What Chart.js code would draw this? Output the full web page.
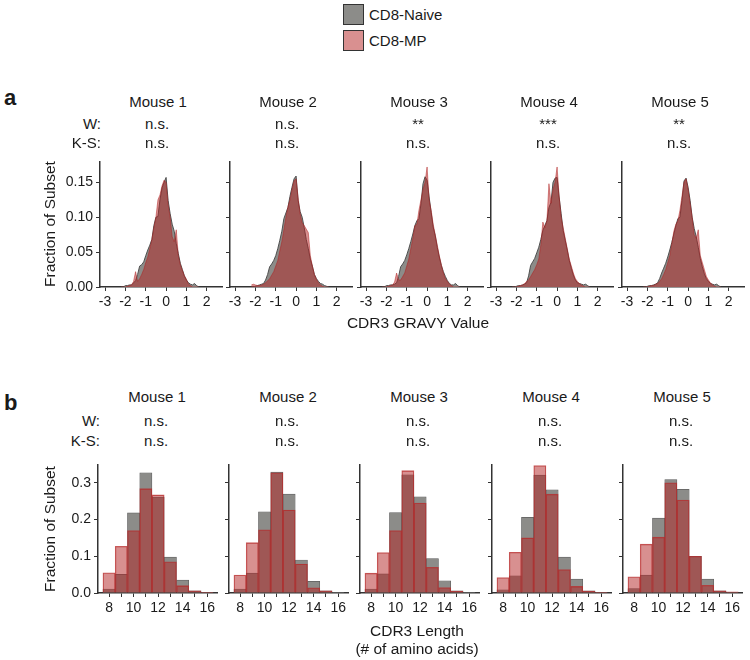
<!DOCTYPE html>
<html>
<head>
<meta charset="utf-8">
<script src="https://cdn.jsdelivr.net/npm/chart.js@4.4.1/dist/chart.umd.min.js"></script>
<style>
body { margin: 0; background: #fff; }
#fig { position: relative; width: 750px; height: 660px; overflow: hidden; font-family: "Liberation Sans", Arial, Helvetica, sans-serif; color: #1a1a1a; }
#fig canvas { position: absolute; }
.t { position: absolute; font-size: 15px; line-height: 1; white-space: nowrap; transform: translate(-50%, -50%); }
.r { transform: translate(-100%, -50%); }
.l { transform: translate(0, -50%); }
.rot { transform: translate(-50%, -50%) rotate(-90deg); }
.tit { font-size: 15.5px; }
.big { font-size: 22px; font-weight: bold; }
.caja { position: absolute; width: 19px; height: 19px; border: 1px solid #333; }
</style>
</head>
<body>
<div id="fig"></div>
<script>
var FUENTE = '"Liberation Sans", Arial, Helvetica, sans-serif';

var ratones = ["Mouse 1", "Mouse 2", "Mouse 3", "Mouse 4", "Mouse 5"];
var wGravy = ["n.s.", "n.s.", "**", "***", "**"];
var ksGravy = ["n.s.", "n.s.", "n.s.", "n.s.", "n.s."];
var wLongitud = ["n.s.", "n.s.", "n.s.", "n.s.", "n.s."];
var ksLongitud = ["n.s.", "n.s.", "n.s.", "n.s.", "n.s."];

// panel a: CDR3 GRAVY
var gravyX = [-2.2, -2.1, -2.0, -1.9, -1.8, -1.7, -1.6, -1.5, -1.4, -1.3, -1.2, -1.1, -1.0, -0.9, -0.8, -0.7, -0.6, -0.5, -0.4, -0.3,
	-0.2, -0.1, 0.0, 0.1, 0.2, 0.3, 0.4, 0.5, 0.6, 0.7, 0.8, 0.9, 1.0, 1.1, 1.2, 1.3, 1.4, 1.5, 1.6];

var naiveGravy1 = [0,0,0.002,0.002,0.003,0.003,0.006,0.009,0.018,0.030,0.032,0.036,0.045,0.053,0.060,0.068,0.088,0.100,0.101,0.125,0.142,0.150,0.157,0.124,0.105,0.090,0.080,0.062,0.048,0.034,0.025,0.016,0.010,0.006,0.004,0.003,0.005,0.002,0];
var mpGravy1 = [0,0,0,0.001,0.002,0.003,0.008,0.022,0.008,0.012,0.018,0.025,0.035,0.043,0.055,0.068,0.085,0.100,0.125,0.132,0.145,0.153,0.150,0.118,0.100,0.072,0.065,0.082,0.045,0.032,0.024,0.016,0.011,0.004,0.002,0,0,0,0];
var naiveGravy2 = [0,0,0.001,0.002,0.003,0.004,0.005,0.010,0.018,0.029,0.033,0.038,0.045,0.055,0.067,0.080,0.098,0.106,0.114,0.130,0.143,0.155,0.159,0.124,0.108,0.100,0.085,0.068,0.055,0.040,0.030,0.018,0.012,0.008,0.005,0.004,0.002,0.001,0];
var mpGravy2 = [0.003,0.004,0.003,0.002,0.002,0.003,0.004,0.006,0.009,0.012,0.017,0.022,0.030,0.038,0.052,0.065,0.082,0.100,0.115,0.125,0.140,0.152,0.155,0.128,0.105,0.092,0.088,0.083,0.078,0.045,0.030,0.018,0.011,0.006,0.003,0.001,0,0,0];
var naiveGravy3 = [0,0,0.002,0.002,0.003,0.003,0.004,0.006,0.015,0.029,0.033,0.038,0.046,0.055,0.065,0.076,0.088,0.095,0.098,0.119,0.148,0.158,0.153,0.129,0.107,0.086,0.074,0.057,0.043,0.031,0.022,0.015,0.009,0.005,0.003,0.003,0.005,0.002,0];
var mpGravy3 = [0,0,0,0.001,0.002,0.003,0.007,0.020,0.010,0.010,0.015,0.020,0.030,0.040,0.055,0.070,0.088,0.090,0.110,0.125,0.140,0.150,0.172,0.125,0.110,0.090,0.075,0.060,0.045,0.032,0.020,0.012,0.008,0.004,0.002,0,0,0,0];
var naiveGravy4 = [0,0,0.001,0.002,0.002,0.003,0.004,0.006,0.016,0.031,0.036,0.041,0.049,0.057,0.068,0.081,0.088,0.095,0.114,0.121,0.150,0.156,0.157,0.129,0.105,0.081,0.067,0.053,0.038,0.027,0.017,0.010,0.006,0.005,0.004,0.003,0.004,0.002,0];
var mpGravy4 = [0,0,0,0.001,0.002,0.003,0.005,0.008,0.010,0.015,0.020,0.025,0.032,0.040,0.060,0.093,0.085,0.095,0.148,0.120,0.140,0.150,0.172,0.130,0.100,0.085,0.070,0.055,0.040,0.030,0.020,0.012,0.008,0.005,0.003,0.001,0,0,0];
var naiveGravy5 = [0,0,0.001,0.002,0.002,0.003,0.004,0.006,0.012,0.020,0.027,0.034,0.043,0.053,0.064,0.076,0.088,0.098,0.100,0.124,0.152,0.156,0.143,0.124,0.100,0.084,0.072,0.057,0.041,0.029,0.019,0.012,0.008,0.005,0.004,0.003,0.004,0.002,0];
var mpGravy5 = [0,0,0,0.001,0.002,0.002,0.004,0.005,0.008,0.012,0.018,0.025,0.035,0.045,0.062,0.080,0.090,0.095,0.110,0.130,0.150,0.155,0.140,0.120,0.100,0.075,0.070,0.082,0.045,0.035,0.025,0.015,0.010,0.006,0.003,0.001,0,0,0];

var gravyTicksX = [-3, -2, -1, 0, 1, 2];
var gravyTicksY = [0, 0.05, 0.10, 0.15];

// panel b: CDR3 length
var longitudes = [8, 9, 10, 11, 12, 13, 14, 15, 16];
var naiveLong1 = [0.011, 0.051, 0.218, 0.327, 0.261, 0.098, 0.035, 0.006, 0.001];
var mpLong1 = [0.055, 0.127, 0.170, 0.284, 0.267, 0.085, 0.020, 0.006, 0.001];
var naiveLong2 = [0.011, 0.054, 0.221, 0.329, 0.269, 0.090, 0.032, 0.006, 0.001];
var mpLong2 = [0.049, 0.137, 0.172, 0.327, 0.226, 0.079, 0.014, 0.006, 0.000];
var naiveLong3 = [0.011, 0.052, 0.219, 0.322, 0.262, 0.094, 0.033, 0.006, 0.001];
var mpLong3 = [0.054, 0.110, 0.170, 0.333, 0.245, 0.070, 0.015, 0.005, 0.000];
var naiveLong4 = [0.009, 0.047, 0.206, 0.321, 0.281, 0.098, 0.038, 0.006, 0.001];
var mpLong4 = [0.042, 0.111, 0.150, 0.347, 0.269, 0.064, 0.018, 0.005, 0.001];
var naiveLong5 = [0.012, 0.049, 0.204, 0.309, 0.282, 0.100, 0.038, 0.006, 0.001];
var mpLong5 = [0.044, 0.133, 0.152, 0.300, 0.253, 0.100, 0.021, 0.006, 0.003];

var longTicksX = [8, 9, 10, 11, 12, 13, 14, 15, 16];
var longTicksY = [0, 0.1, 0.2, 0.3];

var naiveGravy = [naiveGravy1, naiveGravy2, naiveGravy3, naiveGravy4, naiveGravy5];
var mpGravy = [mpGravy1, mpGravy2, mpGravy3, mpGravy4, mpGravy5];
var naiveLong = [naiveLong1, naiveLong2, naiveLong3, naiveLong4, naiveLong5];
var mpLong = [mpLong1, mpLong2, mpLong3, mpLong4, mpLong5];

var GRIS = "rgb(140,140,137)";
var ROJO = "rgba(178,34,34,0.5)";

var fig = document.getElementById("fig");

function texto(txt, x, y, clase)
{
	var d = document.createElement("div");
	d.className = "t " + (clase || "");
	d.textContent = txt;
	d.style.left = x + "px";
	d.style.top = y + "px";
	fig.appendChild(d);
}

function puntos(xs, ys)
{
	return xs.map(function (x, i) { return { x: x, y: ys[i] }; });
}

function opciones(i, rx, ry)
{
	return {
		responsive: false,
		animation: false,
		devicePixelRatio: 1,
		layout: { padding: { left: 0, top: 10, right: 10, bottom: 0 } },
		plugins: { legend: { display: false }, tooltip: { enabled: false } },
		scales: {
			x: {
				type: "linear", min: rx.min, max: rx.max, offset: false,
				afterFit: function (s) { s.height = 30; },
				afterBuildTicks: function (s) { s.ticks = rx.ticks.map(function (v) { return { value: v }; }); },
				ticks: { autoSkip: false, maxRotation: 0, padding: 3, color: "#1a1a1a", font: { size: 14, family: FUENTE }, callback: rx.label },
				grid: { offset: false, drawOnChartArea: false, drawTicks: true, tickLength: 4, color: "#333", lineWidth: 1 },
				border: { display: true, color: "#333", width: 1.5 }
			},
			y: {
				type: "linear", min: 0, max: ry.max,
				afterFit: function (s) { s.width = 50; },
				afterBuildTicks: function (s) { s.ticks = ry.ticks.map(function (v) { return { value: v }; }); },
				ticks: { autoSkip: false, padding: 3, color: "#1a1a1a", font: { size: 14, family: FUENTE },
					callback: i === 0 ? ry.label : function () { return ""; } },
				grid: { drawOnChartArea: false, drawTicks: true, tickLength: 4, color: "#333", lineWidth: 1 },
				border: { display: true, color: "#333", width: 1.5 }
			}
		}
	};
}

function lienzo(left, top, w, h)
{
	var c = document.createElement("canvas");
	c.width = w;
	c.height = h;
	c.style.left = left + "px";
	c.style.top = top + "px";
	fig.appendChild(c);
	return c.getContext("2d");
}

/*******************************************************************************
 * Panel a
 *******************************************************************************/

var ejeA = [100, 230, 361, 491, 622];
var topA = 160, anchoA = 122, altoA = 127;

for (var i = 0; i < 5; i++)
{
	var ctx = lienzo(ejeA[i] - 50, topA - 10, 50 + anchoA + 10, 10 + altoA + 30);
	new Chart(ctx, {
		type: "scatter",
		data: {
			datasets: [{
				label: "CD8-MP",
				data: puntos(gravyX, mpGravy[i]),
				showLine: true, fill: "origin", pointRadius: 0, borderWidth: 1,
				borderColor: ROJO, backgroundColor: ROJO, order: 0
			}, {
				label: "CD8-Naive",
				data: puntos(gravyX, naiveGravy[i]),
				showLine: true, fill: "origin", pointRadius: 0, borderWidth: 1,
				borderColor: "#505050", backgroundColor: GRIS, order: 1
			}]
		},
		options: opciones(i,
			{ min: -3.25, max: 2.75, ticks: gravyTicksX, label: function (v) { return String(v); } },
			{ max: 0.18, ticks: gravyTicksY, label: function (v) { return v.toFixed(2); } })
	});

	texto(ratones[i], ejeA[i] + 58, 101);
	texto(wGravy[i], ejeA[i] + 57, 123);
	texto(ksGravy[i], ejeA[i] + 57, 142);
}

/*******************************************************************************
 * Panel b
 *******************************************************************************/

var ejeB = [98, 229, 360, 492, 623];
var topB = 463, anchoB = 119, altoB = 130;

for (var i = 0; i < 5; i++)
{
	var ctx = lienzo(ejeB[i] - 50, topB - 10, 50 + anchoB + 10, 10 + altoB + 30);
	new Chart(ctx, {
		type: "bar",
		data: {
			datasets: [{
				label: "CD8-MP",
				data: puntos(longitudes, mpLong[i]),
				backgroundColor: ROJO, borderColor: "rgba(185,45,45,0.75)", borderWidth: 0.7,
				barPercentage: 1, categoryPercentage: 1, grouped: false, inflateAmount: 0.3, order: 0
			}, {
				label: "CD8-Naive",
				data: puntos(longitudes, naiveLong[i]),
				backgroundColor: GRIS, borderColor: "#5e5e5e", borderWidth: 0.7,
				barPercentage: 1, categoryPercentage: 1, grouped: false, inflateAmount: 0.3, order: 1
			}]
		},
		options: opciones(i,
			{ min: 7.1, max: 16.8, ticks: longTicksX, label: function (v) { return v % 2 === 0 ? String(v) : ""; } },
			{ max: 0.35, ticks: longTicksY, label: function (v) { return v.toFixed(1); } })
	});

	texto(ratones[i], ejeB[i] + 59, 396);
	texto(wLongitud[i], ejeB[i] + 58, 420);
	texto(ksLongitud[i], ejeB[i] + 58, 440);
}

// textos comunes
texto("a", 4, 98, "l big");
texto("b", 4, 403, "l big");
texto("W:", 101, 123, "r");
texto("K-S:", 101, 142, "r");
texto("W:", 100, 420, "r");
texto("K-S:", 100, 440, "r");
texto("Fraction of Subset", 50, 224, "rot tit");
texto("Fraction of Subset", 50, 529, "rot tit");
texto("CDR3 GRAVY Value", 418, 323, "tit");
texto("CDR3 Length", 417, 631, "tit");
texto("(# of amino acids)", 417, 649, "tit");

// leyenda
var c1 = document.createElement("div");
c1.className = "caja";
c1.style.left = "343px"; c1.style.top = "4px"; c1.style.background = GRIS;
fig.appendChild(c1);
var c2 = document.createElement("div");
c2.className = "caja";
c2.style.left = "343px"; c2.style.top = "30px"; c2.style.background = "rgb(217,144,144)";
fig.appendChild(c2);
texto("CD8-Naive", 369, 14, "l");
texto("CD8-MP", 369, 40, "l");
</script>
</body>
</html>
